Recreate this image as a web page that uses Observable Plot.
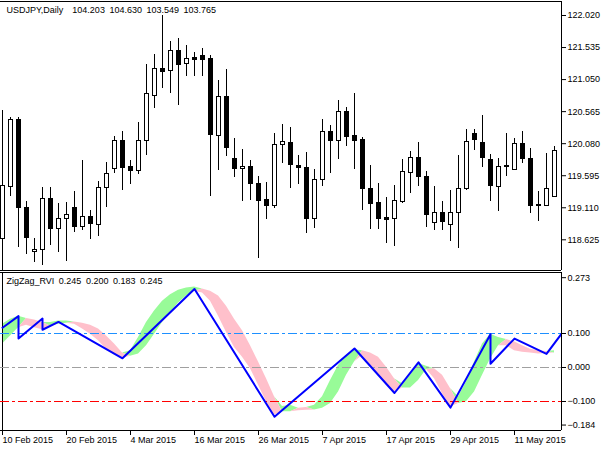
<!DOCTYPE html>
<html><head><meta charset="utf-8">
<script src="https://cdn.jsdelivr.net/npm/d3@7"></script>
<script src="https://cdn.jsdelivr.net/npm/@observablehq/plot@0.6"></script>
<style>
html,body{margin:0;padding:0;background:#fff;}
#chart{position:relative;width:613px;height:450px;background:#fff;overflow:hidden;}
#chart svg{position:absolute;left:0;}
</style></head><body><div id="chart"></div>
<script>
const symbolTitle = "USDJPY,Daily";
const headerValues = ["104.203", "104.630", "103.549", "103.765"];
const indicatorTitle = "ZigZag_RVI";
const indicatorValues = ["0.245", "0.200", "0.183", "0.245"];

const days = [
  "2015-02-10","2015-02-11","2015-02-12","2015-02-13","2015-02-16","2015-02-17","2015-02-18","2015-02-19","2015-02-20","2015-02-23","2015-02-24","2015-02-25","2015-02-26","2015-02-27",
  "2015-03-02","2015-03-03","2015-03-04","2015-03-05","2015-03-06","2015-03-09","2015-03-10","2015-03-11","2015-03-12","2015-03-13","2015-03-16","2015-03-17","2015-03-18","2015-03-19","2015-03-20","2015-03-23","2015-03-24","2015-03-25","2015-03-26","2015-03-27","2015-03-30","2015-03-31",
  "2015-04-01","2015-04-02","2015-04-03","2015-04-06","2015-04-07","2015-04-08","2015-04-09","2015-04-10","2015-04-13","2015-04-14","2015-04-15","2015-04-16","2015-04-17","2015-04-20","2015-04-21","2015-04-22","2015-04-23","2015-04-24","2015-04-27","2015-04-28","2015-04-29","2015-04-30",
  "2015-05-01","2015-05-04","2015-05-05","2015-05-06","2015-05-07","2015-05-08","2015-05-11","2015-05-12","2015-05-13","2015-05-14","2015-05-15","2015-05-18"
];
const open = [118.640,119.421,120.441,119.110,118.438,118.474,119.246,118.792,118.943,119.110,118.822,118.973,118.852,119.412,119.700,120.124,119.730,119.664,120.128,120.799,121.203,121.183,121.480,121.289,121.384,121.400,121.359,120.199,120.794,119.841,119.700,119.730,119.473,119.231,119.134,120.063,120.093,119.745,119.715,118.937,119.533,120.260,120.118,120.567,120.189,120.143,119.387,119.175,118.948,118.937,119.194,119.639,119.866,119.583,118.883,119.034,118.852,119.034,119.387,120.230,120.093,119.836,119.427,119.739,119.685,120.078,119.851,119.155,119.134,119.270];
const high = [120.582,120.481,120.481,119.209,118.640,119.412,119.412,119.179,119.190,119.356,119.825,119.069,119.508,119.791,120.189,120.264,119.821,120.401,121.278,121.425,122.020,121.631,121.667,121.566,121.465,121.516,121.415,121.036,121.203,120.154,119.992,119.825,119.583,119.492,120.230,120.370,120.329,119.901,119.942,119.685,120.446,120.355,120.734,120.623,120.835,120.169,119.750,119.477,119.270,119.447,119.841,119.962,120.098,119.659,119.432,119.205,119.371,119.901,120.295,120.290,120.507,119.912,119.860,120.230,120.154,120.269,120.003,119.361,119.936,120.037];
const low = [118.100,119.281,118.513,118.403,118.286,118.236,118.539,118.438,118.297,118.740,118.766,118.625,118.675,119.119,119.633,119.371,119.462,119.614,119.906,120.608,120.920,120.844,120.653,121.097,121.097,121.097,119.281,119.674,119.891,119.573,119.209,119.220,118.338,118.928,119.104,119.776,119.406,119.458,118.716,118.801,119.437,119.633,119.841,120.037,119.689,119.069,118.781,118.781,118.574,118.524,119.170,119.331,119.432,118.816,118.766,118.766,118.604,118.498,119.371,119.977,119.724,119.205,119.058,119.588,119.674,119.785,119.028,118.898,119.129,119.261];
const close = [119.432,120.441,119.104,118.649,118.474,119.246,118.792,118.943,119.004,118.816,118.973,118.867,119.412,119.624,120.124,119.709,119.664,120.124,120.835,121.203,121.162,121.480,121.278,121.365,121.354,121.339,120.214,120.794,120.012,119.700,119.730,119.473,119.215,119.134,120.063,120.108,119.760,119.709,118.937,119.533,120.260,120.118,120.567,120.178,120.118,119.391,119.164,118.937,118.928,119.205,119.648,119.866,119.573,118.998,119.034,118.892,119.034,119.397,120.108,120.139,119.860,119.437,119.724,119.720,120.078,119.851,119.134,119.134,119.387,119.966];

const rviMain = [0.127,0.142,0.151,0.124,0.117,0.111,0.132,0.137,0.137,0.127,0.113,0.098,0.079,0.054,0.037,0.027,0.049,0.088,0.132,0.166,0.195,0.214,0.227,0.234,0.237,0.219,0.195,0.151,0.103,0.059,0.030,-0.004,-0.052,-0.101,-0.140,-0.115,-0.111,-0.127,-0.126,-0.111,-0.086,-0.038,0.006,0.035,0.052,0.035,0.006,-0.023,-0.052,-0.072,-0.048,-0.023,0.012,0.004,-0.033,-0.077,-0.116,-0.086,-0.043,0.016,0.069,0.098,0.088,0.064,0.049,0.045,0.043,0.040,0.041,0.049];
const rviSignal = [0.069,0.093,0.117,0.144,0.140,0.132,0.122,0.127,0.130,0.134,0.130,0.124,0.113,0.093,0.069,0.043,0.033,0.040,0.064,0.098,0.132,0.161,0.190,0.210,0.224,0.231,0.224,0.210,0.180,0.142,0.108,0.064,0.016,-0.033,-0.086,-0.130,-0.130,-0.120,-0.118,-0.125,-0.120,-0.106,-0.072,-0.023,0.016,0.049,0.043,0.030,0.001,-0.033,-0.060,-0.060,-0.038,-0.006,-0.004,-0.023,-0.062,-0.106,-0.101,-0.072,-0.023,0.025,0.064,0.082,0.076,0.064,0.054,0.049,0.047,0.043];

const zigzagBar = [0, 2, 2, 5, 5, 7, 15, 24, 34, 44, 49, 52, 56, 61, 61, 64, 68, 70];
const zigzagValue = [0.117,0.151,0.085,0.144,0.111,0.134,0.027,0.231,-0.145,0.056,-0.075,0.015,-0.118,0.098,0.011,0.085,0.040,0.103];

const priceTicks = [122.020,121.535,121.050,120.565,120.080,119.595,119.110,118.625];
const rviTicks = [0.100, 0.000, -0.100];
const rviTopTick = [0.273];
const rviBottomTick = [-0.184];
const rviLevels = [0.1, 0, -0.1];
const levelColors = ["#1E90FF", "#A0A0A0", "#FF0000"];
const dateTickBars = [0, 8, 16, 24, 32, 40, 48, 56, 64];

// ---- layout ----
const FONT = "'Liberation Sans', Arial, sans-serif";
const xDomain = [-0.25, 69.875];
const priceDomain = [118.1605, 122.2319];
const rviDomain = [-0.1853, 0.2794];
const fmtDate = d3.utcFormat("%-d %b %Y");

const bars = days.map((d, i) => ({i, date: d, open: open[i], high: high[i], low: low[i], close: close[i]}));
const rvi = rviMain.map((v, i) => ({i, main: v, sig: rviSignal[i]}));
const zz = zigzagBar.map((b, k) => ({bar: b, value: zigzagValue[k]}));

const tickStyle = {anchor: "right", tickSize: 4, tickPadding: 2, tickFormat: d3.format(".3f"), label: null, color: "#000"};

const topPlot = Plot.plot({
  width: 613, height: 272,
  marginLeft: 0, marginRight: 52, marginTop: 1, marginBottom: 2,
  style: {fontFamily: FONT, fontSize: "9px", background: "#fff", color: "#000", overflow: "visible"},
  x: {domain: xDomain, axis: null},
  y: {domain: priceDomain, axis: null},
  marks: [
    Plot.ruleX(bars, {x: "i", y1: "low", y2: "high", stroke: "#000", strokeWidth: 1, clip: true, shapeRendering: "crispEdges"}),
    Plot.rect(bars, {x1: d => d.i - 0.25, x2: d => d.i + 0.25, y1: "open", y2: "close",
      fill: d => d.close >= d.open ? "#ffffff" : "#000000", stroke: "#000", strokeWidth: 1, clip: true, shapeRendering: "crispEdges"}),
    Plot.ruleY([priceDomain[0], priceDomain[1]], {stroke: "#000", shapeRendering: "crispEdges"}),
    Plot.ruleX([xDomain[1]], {stroke: "#000", shapeRendering: "crispEdges"}),
    Plot.axisY(priceTicks, tickStyle),
    Plot.text([symbolTitle + "\u2002\u2002" + headerValues.join("\u2002")],
      {frameAnchor: "top-left", dx: 6, dy: 5, textAnchor: "start", lineAnchor: "top", fill: "#000", fontSize: 9})
  ]
});

const bottomPlot = Plot.plot({
  width: 613, height: 178,
  marginLeft: 0, marginRight: 52, marginTop: 0, marginBottom: 20,
  style: {fontFamily: FONT, fontSize: "9px", background: "#fff", color: "#000", overflow: "visible"},
  x: {domain: xDomain, axis: null},
  y: {domain: rviDomain, axis: null},
  marks: [
    Plot.areaY(rvi, {x: "i", y1: "sig", y2: d => Math.max(d.main, d.sig), fill: "#98FB98", clip: true}),
    Plot.areaY(rvi, {x: "i", y1: "sig", y2: d => Math.min(d.main, d.sig), fill: "#FFC0CB", clip: true}),
    Plot.ruleY([rviDomain[0], rviDomain[1]], {stroke: "#000", shapeRendering: "crispEdges"}),
    Plot.ruleX([0, xDomain[1]], {stroke: "#000", shapeRendering: "crispEdges"}),
    Plot.axisY(rviTicks, tickStyle),
    Plot.axisY(rviTopTick, {...tickStyle, dy: 3}),
    Plot.axisY(rviBottomTick, {...tickStyle, dy: -5}),
    Plot.axisX(dateTickBars, {anchor: "bottom", tickSize: 5, tickPadding: 1, textAnchor: "start", dx: 0,
      tickFormat: i => fmtDate(new Date(days[i])), label: null, color: "#000"}),
    Plot.text([indicatorTitle + "\u2002" + indicatorValues.join("\u2002")],
      {frameAnchor: "top-left", dx: 6, dy: 5, textAnchor: "start", lineAnchor: "top", fill: "#000", fontSize: 9}),
    Plot.ruleY([rviLevels[0]], {stroke: levelColors[0], strokeOpacity: 1, strokeWidth: 1, strokeDasharray: "9,3,3,3", shapeRendering: "crispEdges"}),
    Plot.ruleY([rviLevels[1]], {stroke: levelColors[1], strokeOpacity: 1, strokeWidth: 1, strokeDasharray: "9,3,3,3", shapeRendering: "crispEdges"}),
    Plot.ruleY([rviLevels[2]], {stroke: levelColors[2], strokeOpacity: 1, strokeWidth: 1, strokeDasharray: "9,3,3,3", shapeRendering: "crispEdges"}),
    Plot.line(zz, {x: "bar", y: "value", stroke: "#0000FF", strokeWidth: 2, clip: true})
  ]
});

const chart = document.getElementById("chart");
topPlot.style.top = "0px";
bottomPlot.style.top = "272px";
chart.appendChild(topPlot);
chart.appendChild(bottomPlot);
</script>
</body></html>
